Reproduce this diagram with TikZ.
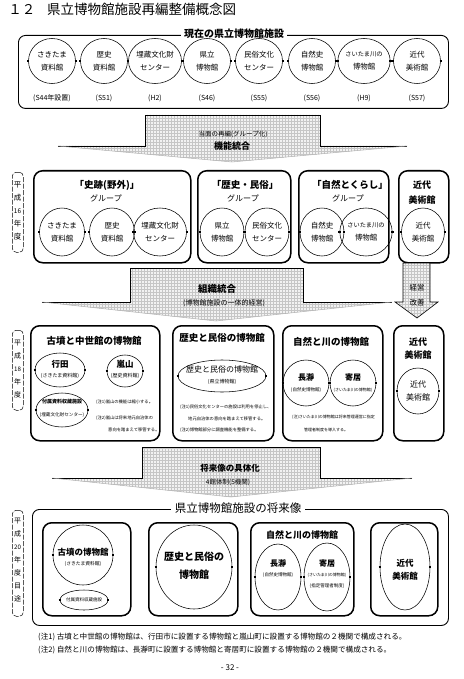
\documentclass[tikz,border=0pt]{standalone}
\usepackage{fontspec}
\setmainfont{Noto Sans CJK JP}
\usetikzlibrary{shapes.geometric,patterns}
\newcommand{\fsz}[1]{\fontsize{#1}{#1}\selectfont}
\newcommand{\fszl}[2]{\fontsize{#1}{#2}\selectfont}
\newcommand{\garrow}[8]{%
  \fill[gray!10] (#2,#5) -- (#3,#5) -- (#3,#6) -- (#4,#6) -- (#7,#8) -- (#1,#6) -- (#2,#6) -- cycle;
  \fill[pattern=grid, pattern color=gray!45] (#2,#5) -- (#3,#5) -- (#3,#6) -- (#4,#6) -- (#7,#8) -- (#1,#6) -- (#2,#6) -- cycle;
  \draw[line width=0.6pt] (#1,#6) -- (#2,#6) -- (#2,#5) -- (#3,#5) -- (#3,#6) -- (#4,#6);
  \draw[gray!60, line width=0.5pt] (#1,#6) -- (#7,#8) -- (#4,#6);}
\begin{document}
\begin{tikzpicture}[x=1pt,y=-1pt,
  grp/.style={draw, line width=1.5pt, rounded corners=9pt, inner sep=0pt, anchor=north west},
  frm/.style={draw, line width=0.9pt, rounded corners=7pt, inner sep=0pt, anchor=north west},
  el/.style={draw, ellipse, line width=0.55pt, inner sep=0pt, align=center},
  lbl/.style={draw, line width=0.5pt, dash pattern=on 5pt off 1.5pt, rounded corners=4pt, inner sep=0pt, anchor=north west},
  tx/.style={inner sep=0pt, align=center},
  tk/.style={line width=1.1pt}]
\fill[white] (0,0) rectangle (463,679);
\useasboundingbox (0,0) rectangle (463,679);

% title
\node[tx, font=\fsz{13.5}] (tnum) at (22,9) {１２};
\node[tx, font=\fsz{13.5}, anchor=west] (title) at (47,9) {県立博物館施設再編整備概念図};

% ---------- frame 1 ----------
\node[frm, minimum width=430, minimum height=73] (f1) at (18,35) {};
\node[tx, fill=white, inner xsep=3pt, font=\bfseries\fsz{10}] (f1t) at (234,34) {現在の県立博物館施設};
\begin{scope}[every node/.style={el, minimum width=47, minimum height=45, font=\fszl{7.5}{13}}]
\node (c1) at (52,61) {さきたま\\資料館};
\node (c2) at (104,61) {歴史\\資料館};
\node (c3) at (155,61) {埋蔵文化財\\センター};
\node (c4) at (207,61) {県立\\博物館};
\node (c5) at (259,61) {民俗文化\\センター};
\node (c6) at (312,61) {自然史\\博物館};
\node[font=\fszl{6.2}{13}] (c7) at (364,61) {さいたま川の\\{\fsz{7.5}博物館}};
\node (c8) at (417,61) {近代\\美術館};
\end{scope}
\begin{scope}[every node/.style={tx, font=\fsz{7}}]
\node (y1) at (52,98) {(S44年設置)};
\node (y2) at (104,98) {(S51)};
\node (y3) at (155,98) {(H2)};
\node (y4) at (207,98) {(S46)};
\node (y5) at (259,98) {(S55)};
\node (y6) at (312,98) {(S56)};
\node (y7) at (364,98) {(H9)};
\node (y8) at (417,98) {(S57)};
\end{scope}

% ---------- arrow 1 ----------
\garrow{58}{145}{320}{407}{115}{146}{232}{162}
\node[tx, font=\fsz{6.5}] (a1s) at (233,134) {当面の再編(グループ化)};
\node[tx, font=\bfseries\fsz{9}] (a1t) at (232,146) {機能統合};

% ---------- row 2 ----------
\node[lbl, minimum width=11, minimum height=80] (l2) at (12,172) {};
\begin{scope}[every node/.style={tx, font=\fsz{7.5}}]
\node (l2a) at (17.5,185) {平};
\node (l2b) at (17.5,198) {成};
\node[font=\fsz{6.5}] (l2c) at (17.5,211) {16};
\node (l2d) at (17.5,224) {年};
\node (l2e) at (17.5,237) {度};
\end{scope}
\node[grp, minimum width=157, minimum height=92] (r2a) at (33,170) {};
\node[grp, minimum width=93, minimum height=92] (r2b) at (197,170) {};
\node[grp, minimum width=90, minimum height=92] (r2c) at (298,170) {};
\node[grp, minimum width=50, minimum height=92] (r2d) at (398,170) {};
\node[tx, font=\bfseries\fsz{9.5}] (g1) at (107,185) {「史跡(野外)」};
\node[tx, font=\fsz{8}] (g1b) at (106,198) {グループ};
\node[tx, font=\bfseries\fsz{9.5}] (g2) at (245,185) {「歴史・民俗」};
\node[tx, font=\fsz{8}] (g2b) at (243,198) {グループ};
\node[tx, font=\bfseries\fsz{9.5}] (g3) at (350,185) {「自然とくらし」};
\node[tx, font=\fsz{8}] (g3b) at (348,198) {グループ};
\node[tx, font=\bfseries\fsz{9}] (g4) at (422,185) {近代};
\node[tx, font=\bfseries\fsz{9}] (g4b) at (422,200) {美術館};
\begin{scope}[every node/.style={el, minimum width=45, minimum height=48, font=\fszl{7.5}{13}}]
\node (d1) at (62,232) {さきたま\\資料館};
\node (d2) at (112,232) {歴史\\資料館};
\node (d3) at (160,232) {埋蔵文化財\\センター};
\node[minimum width=44] (d4) at (222,232) {県立\\博物館};
\node[minimum width=44] (d5) at (267,232) {民俗文化\\センター};
\node[minimum width=44] (d6) at (322,232) {自然史\\博物館};
\node[minimum width=44, font=\fszl{6.2}{13}] (d7) at (366,232) {さいたま川の\\{\fsz{7.5}博物館}};
\node[minimum width=43] (d8) at (423,232) {近代\\美術館};
\end{scope}

% ---------- arrow 2 ----------
\garrow{42}{130}{303}{392}{268}{302}{216}{321}
\node[tx, font=\bfseries\fsz{9.5}] (a2t) at (217,289) {組織統合};
\node[tx, font=\fsz{7}] (a2s) at (224,303) {(博物館施設の一体的経営)};
% small down arrow
\fill[gray!10] (403,263) -- (430,263) -- (430,302) -- (438,302) -- (417,318) -- (395,302) -- (403,302) -- cycle;
\fill[pattern=grid, pattern color=gray!45] (403,263) -- (430,263) -- (430,302) -- (438,302) -- (417,318) -- (395,302) -- (403,302) -- cycle;
\draw[line width=0.6pt] (403,263) -- (430,263) -- (430,302) -- (438,302) -- (417,318) -- (395,302) -- (403,302) -- cycle;
\node[tx, font=\fsz{7.5}] (kk1) at (417,288) {経営};
\node[tx, font=\fsz{7.5}] (kk2) at (417,303) {改善};

% ---------- row 3 ----------
\node[lbl, minimum width=11, minimum height=80] (l3) at (12,330) {};
\begin{scope}[every node/.style={tx, font=\fsz{7}}]
\node (l3a) at (17.5,343) {平};
\node (l3b) at (17.5,356) {成};
\node[font=\fsz{6.2}] (l3c) at (17.5,369) {18};
\node (l3d) at (17.5,382) {年};
\node (l3e) at (17.5,395) {度};
\end{scope}
\node[grp, minimum width=129, minimum height=115] (r3a) at (30,325) {};
\node[grp, minimum width=101, minimum height=115] (r3b) at (172,325) {};
\node[grp, minimum width=100, minimum height=115] (r3c) at (282,325) {};
\node[grp, minimum width=50, minimum height=115] (r3d) at (393,325) {};
% A
\node[tx, font=\bfseries\fsz{9.5}] (h3a) at (94,341) {古墳と中世館の博物館};
\node[el, minimum width=50, minimum height=34] (e3a1) at (60,370) {};
\node[tx, font=\bfseries\fsz{8.5}] (e3a1t) at (60,364) {行田};
\node[tx, font=\fsz{5}] (e3a1s) at (60,376) {(さきたま資料館)};
\node[el, minimum width=36, minimum height=32] (e3a2) at (125,371) {};
\node[tx, font=\bfseries\fsz{8.5}] (e3a2t) at (125,364) {嵐山};
\node[tx, font=\fsz{5}] (e3a2s) at (125,376) {(歴史資料館)};
\node[el, minimum width=52, minimum height=34] (e3a3) at (62,410) {};
\node[tx, font=\bfseries\fsz{5}] (e3a3t) at (62,402) {付属資料収蔵施設};
\node[tx, font=\fsz{4.6}] (e3a3s) at (62,415) {(埋蔵文化財センター)};
\node[tx, anchor=west, font=\fsz{4.3}] (n3a1) at (96,402) {(注1)嵐山の機能は縮小する。};
\node[tx, anchor=west, font=\fsz{4.3}] (n3a2) at (96,418) {(注2)嵐山は将来地元自治体の};
\node[tx, anchor=west, font=\fsz{4.3}] (n3a3) at (108,430) {意向を踏まえて移管する。};
% B
\node[tx, font=\bfseries\fsz{9.5}] (h3b) at (222,338) {歴史と民俗の博物館};
\node[el, minimum width=88, minimum height=32] (e3b) at (222,376) {};
\node[tx, font=\fsz{8}] (e3bt) at (222,369) {歴史と民俗の博物館};
\node[tx, font=\fsz{5}] (e3bs) at (222,382) {(県立博物館)};
\node[tx, anchor=west, font=\fsz{4.3}] (n3b1) at (180,407) {(注1)民俗文化センターの施設は利用を停止し、};
\node[tx, anchor=west, font=\fsz{4.3}] (n3b2) at (188,419) {地元自治体の意向を踏まえて移管する。};
\node[tx, anchor=west, font=\fsz{4.3}] (n3b3) at (180,430) {(注2)博物館部分に調査機能を整備する。};
% C
\node[tx, font=\bfseries\fsz{9.5}] (h3c) at (331,342) {自然と川の博物館};
\node[el, minimum width=46, minimum height=46] (e3c1) at (306,383) {};
\node[tx, font=\bfseries\fsz{8}] (e3c1t) at (306,377) {長瀞};
\node[tx, font=\fsz{4.5}] (e3c1s) at (306,390) {(自然史博物館)};
\node[el, minimum width=46, minimum height=46] (e3c2) at (353,383) {};
\node[tx, font=\bfseries\fsz{8}] (e3c2t) at (353,377) {寄居};
\node[tx, font=\fsz{4}] (e3c2s) at (353,390) {(さいたま川の博物館)};
\node[tx, anchor=west, font=\fsz{4}] (n3c1) at (292,417) {(注)さいたま川の博物館は将来管理運営に指定};
\node[tx, anchor=west, font=\fsz{4}] (n3c2) at (304,430) {管理者制度を導入する。};
% D
\node[tx, font=\bfseries\fsz{9}] (h3d) at (418,342) {近代};
\node[tx, font=\bfseries\fsz{9}] (h3d2) at (418,355) {美術館};
\node[el, minimum width=42, minimum height=46, font=\fszl{8}{13}] (e3d) at (418,391) {近代\\美術館};

% ---------- arrow 3 ----------
\garrow{52}{142}{320}{412}{447}{478}{231}{497}
\node[tx, font=\bfseries\fsz{8.5}] (a3t) at (230,468) {将来像の具体化};
\node[tx, font=\fsz{6.5}] (a3s) at (228,482) {4館体制(5機関)};

% ---------- frame 4 ----------
\node[frm, minimum width=416, minimum height=116] (f4) at (32,509) {};
\node[tx, fill=white, inner xsep=4pt, inner ysep=1pt, font=\fsz{11.5}] (f4t) at (238,508) {県立博物館施設の将来像};
\node[lbl, minimum width=11, minimum height=106] (l4) at (12,510) {};
\begin{scope}[every node/.style={tx, font=\fsz{7}}]
\node (l4a) at (17.5,521) {平};
\node (l4b) at (17.5,534) {成};
\node[font=\fsz{6.2}] (l4c) at (17.5,547) {20};
\node (l4d) at (17.5,560) {年};
\node (l4e) at (17.5,573) {度};
\node (l4f) at (17.5,586) {目};
\node (l4g) at (17.5,599) {途};
\end{scope}
\node[grp, minimum width=88, minimum height=93] (r4a) at (42,522) {};
\node[grp, minimum width=89, minimum height=93] (r4b) at (148,522) {};
\node[grp, minimum width=103, minimum height=93] (r4c) at (250,522) {};
\node[grp, minimum width=67, minimum height=93] (r4d) at (370,522) {};
% A
\node[el, minimum width=60, minimum height=60] (e4a) at (83,555) {};
\node[tx, font=\bfseries\fsz{8.5}] (e4at) at (83,552) {古墳の博物館};
\node[tx, font=\fsz{4.8}] (e4as) at (83,564) {(さきたま資料館)};
\node[el, minimum width=48, minimum height=20] (e4a2) at (84,600) {};
\node[tx, font=\fsz{4.5}] (e4a2t) at (84,600) {付属資料収蔵施設};
% B
\node[el, minimum width=76, minimum height=84] (e4b) at (194,567) {};
\node[tx, font=\bfseries\fsz{10}] (e4bt) at (194,557) {歴史と民俗の};
\node[tx, font=\bfseries\fsz{10}] (e4bt2) at (194,575) {博物館};
% C
\node[tx, font=\bfseries\fsz{9}] (h4c) at (302,535) {自然と川の博物館};
\node[el, minimum width=46, minimum height=66] (e4c1) at (278,577) {};
\node[tx, font=\bfseries\fsz{8}] (e4c1t) at (278,563) {長瀞};
\node[tx, font=\fsz{4.5}] (e4c1s) at (278,575) {(自然史博物館)};
\node[el, minimum width=46, minimum height=68] (e4c2) at (327,577) {};
\node[tx, font=\bfseries\fsz{8}] (e4c2t) at (327,563) {寄居};
\node[tx, font=\fsz{4}] (e4c2s) at (327,575) {(さいたま川の博物館)};
\node[tx, font=\fsz{4.5}] (e4c2u) at (327,586) {(指定管理者制度)};
% D
\node[el, minimum width=50, minimum height=86] (e4d) at (405,567) {};
\node[tx, font=\bfseries\fsz{8.5}] (e4dt) at (405,563) {近代};
\node[tx, font=\bfseries\fsz{8.5}] (e4dt2) at (405,576) {美術館};

% ticks
\foreach \n in {c1,c2,c3,c4,c5,c6,c7,c8,d1,d2,d3,d4,d5,d6,d7,d8,e3a1,e3a2,e3a3,e3b,e3c1,e3c2,e3d,e4a,e4a2,e4b,e4c1,e4c2,e4d}{
  \draw[tk] (\n.west) ++(-1.2,0) -- ++(2.4,0);
  \draw[tk] (\n.east) ++(-1.2,0) -- ++(2.4,0);}

% notes
\node[tx, anchor=west, font=\fsz{7.6}] (nb1) at (38,637) {(注1) 古墳と中世館の博物館は、行田市に設置する博物館と嵐山町に設置する博物館の２機関で構成される。};
\node[tx, anchor=west, font=\fsz{7.6}] (nb2) at (38,650) {(注2) 自然と川の博物館は、長瀞町に設置する博物館と寄居町に設置する博物館の２機関で構成される。};
\node[tx, font=\fsz{8}] (pg) at (230,668) {- 32 -};
\end{tikzpicture}
\end{document}
